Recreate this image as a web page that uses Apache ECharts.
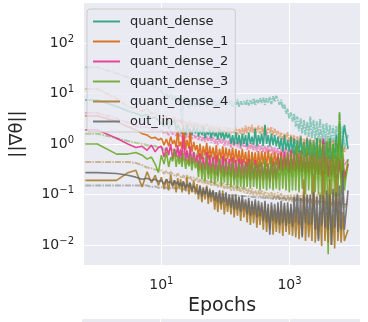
<!DOCTYPE html>
<html>
<head>
<meta charset="utf-8">
<script src="https://cdn.jsdelivr.net/npm/echarts@6/dist/echarts.min.js"></script>
<style>
  html, body { margin: 0; padding: 0; background: #fff; }
  #chart { width: 368px; height: 322px; }
</style>
</head>
<body>
<div id="chart"></div>
<script>
// epochs (x), shared by every line
const epochs = [0.65, 1, 2, 3, 4, 5, 6, 7, 8, 9,
  10, 11, 12, 13, 14, 15, 16, 17, 18, 19,
  20, 21, 22, 24, 25, 27, 28, 30, 32, 34,
  36, 38, 40, 43, 45, 48, 51, 54, 57, 60,
  64, 68, 72, 76, 81, 86, 91, 96, 102, 108,
  115, 122, 129, 137, 145, 154, 163, 173, 183, 194,
  206, 218, 231, 245, 260, 275, 292, 309, 328, 347,
  368, 390, 414, 439, 465, 493, 522, 554, 587, 622,
  660, 699, 741, 786, 833, 883, 936, 992, 1051, 1114,
  1181, 1252, 1327, 1407, 1491, 1581, 1676, 1776, 1883, 1996,
  2115, 2242, 2377, 2519, 2671, 2831, 3001, 3181, 3372, 3574,
  3788, 4016, 4256, 4512, 4783, 5070, 5374, 5696, 6038, 6400,
  6784, 7192, 8200];

// gradient norms, solid lines
const quantDense = [7.4, 7.4, 5.5, 4.5, 4.0, 3.6, 3.8, 3.2, 3.4, 2.9,
  2.6, 2.2, 2.8, 2.0, 2.5, 2.3, 2.9, 1.9, 2.4, 2.1,
  2.3, 1.6, 2.1, 1.5, 2.4, 1.7, 2.0, 1.5, 2.2, 1.6,
  2.1, 1.4, 1.9, 1.5, 2.2, 1.3, 1.8, 1.5, 2.0, 1.3,
  1.9, 1.4, 1.7, 1.2, 2.0, 1.3, 1.8, 1.2, 1.7, 1.3,
  1.6, 1.0, 1.5, 0.95, 1.7, 1.0, 1.5, 0.9, 1.6, 1.0,
  1.5, 0.9, 1.7, 1.0, 1.4, 0.95, 2.0, 0.9, 1.5, 1.0,
  1.6, 0.9, 2.4, 1.0, 1.5, 0.9, 1.6, 0.95, 1.5, 0.9,
  1.4, 0.8, 1.3, 0.7, 1.5, 0.75, 1.2, 0.7, 1.4, 0.65,
  1.3, 0.6, 1.2, 0.65, 1.4, 0.6, 1.1, 0.55, 1.3, 0.6,
  1.2, 0.5, 1.1, 0.55, 1.3, 0.5, 1.0, 0.5, 1.2, 0.45,
  1.1, 0.5, 1.3, 0.45, 1.0, 0.5, 1.5, 0.45, 2.6, 0.5,
  1.2, 2.4, 0.8];
const quantDense1 = [3.6, 3.6, 2.8, 2.2, 1.9, 1.6, 1.5, 1.3, 1.35, 1.2,
  1.3, 0.95, 1.25, 0.9, 1.4, 1.0, 1.2, 0.85, 1.9, 0.9,
  1.1, 0.8, 2.4, 0.75, 1.2, 0.8, 1.9, 0.7, 1.1, 0.75,
  0.95, 0.55, 1.0, 0.5, 0.9, 0.6, 1.05, 0.5, 0.9, 0.55,
  0.85, 0.5, 0.95, 0.45, 0.8, 0.5, 0.9, 0.45, 0.85, 0.5,
  0.8, 0.45, 0.85, 0.42, 0.8, 0.45, 0.75, 0.4, 0.8, 0.42,
  0.7, 0.35, 0.75, 0.32, 0.7, 0.38, 0.68, 0.33, 0.72, 0.35,
  0.72, 0.4, 0.7, 0.35, 0.75, 0.4, 0.65, 0.35, 0.7, 0.38,
  0.65, 0.32, 0.7, 0.3, 0.6, 0.32, 0.66, 0.28, 0.6, 0.3,
  0.6, 0.28, 0.62, 0.27, 0.58, 0.28, 0.6, 0.26, 0.55, 0.27,
  0.58, 0.25, 0.55, 0.26, 0.6, 0.24, 0.52, 0.25, 0.56, 0.24,
  0.55, 0.23, 0.5, 0.24, 0.6, 0.22, 0.5, 0.23, 0.52, 0.22,
  0.5, 0.22, 0.4];
const quantDense2 = [1.9, 1.9, 1.3, 1.0, 0.85, 0.9, 0.75, 0.95, 0.7, 0.85,
  0.9, 0.55, 0.85, 0.6, 1.0, 0.5, 0.8, 0.55, 0.95, 0.5,
  0.8, 0.45, 1.4, 0.45, 0.75, 0.4, 0.9, 0.4, 0.7, 0.42,
  0.6, 0.3, 0.65, 0.28, 0.55, 0.3, 0.7, 0.25, 0.6, 0.27,
  0.55, 0.25, 0.6, 0.23, 0.5, 0.26, 0.58, 0.22, 0.52, 0.24,
  0.5, 0.22, 0.55, 0.2, 0.48, 0.22, 0.52, 0.2, 0.5, 0.21,
  0.45, 0.2, 0.5, 0.19, 0.42, 0.2, 0.48, 0.19, 0.4, 0.2,
  0.42, 0.19, 0.45, 0.2, 0.4, 0.18, 0.5, 0.2, 0.45, 0.19,
  0.55, 0.3, 0.65, 0.28, 0.7, 0.3, 0.6, 0.27, 0.75, 0.3,
  0.7, 0.28, 0.65, 0.3, 0.72, 0.27, 0.6, 0.28, 0.68, 0.26,
  0.6, 0.25, 0.65, 0.24, 0.7, 0.25, 0.6, 0.23, 1.3, 0.25,
  0.55, 0.22, 0.6, 0.23, 0.5, 0.22, 0.55, 0.2, 0.5, 0.22,
  0.45, 0.2, 0.4];
const quantDense3 = [1.0, 1.0, 0.63, 0.63, 0.68, 0.6, 0.5, 0.55, 0.4, 0.27,
  0.6, 0.4, 0.7, 0.35, 0.55, 0.45, 0.75, 0.35, 0.6, 0.4,
  0.55, 0.35, 0.65, 0.32, 0.5, 0.36, 0.6, 0.3, 0.55, 0.33,
  0.45, 0.22, 0.5, 0.2, 0.42, 0.18, 0.55, 0.2, 0.4, 0.17,
  0.45, 0.16, 0.4, 0.18, 0.5, 0.15, 0.38, 0.17, 0.42, 0.15,
  0.4, 0.14, 0.45, 0.15, 0.36, 0.13, 0.42, 0.14, 0.38, 0.13,
  0.4, 0.14, 0.45, 0.13, 0.5, 0.14, 0.4, 0.13, 0.45, 0.12,
  0.45, 0.13, 0.5, 0.12, 0.42, 0.13, 0.55, 0.12, 0.45, 0.13,
  0.5, 0.12, 0.6, 0.13, 0.55, 0.12, 0.7, 0.11, 0.65, 0.12,
  0.8, 0.12, 1.0, 0.11, 0.75, 0.13, 1.1, 0.1, 0.9, 0.12,
  1.0, 0.1, 1.2, 0.11, 0.9, 0.1, 1.3, 0.08, 1.0, 0.1,
  1.1, 0.0065, 1.3, 0.1, 0.95, 0.09, 1.2, 0.09, 4.2, 0.1,
  0.8, 0.12, 0.5];
const quantDense4 = [0.19, 0.19, 0.19, 0.27, 0.3, 0.14, 0.28, 0.17, 0.24, 0.15,
  0.22, 0.13, 0.2, 0.12, 0.25, 0.14, 0.19, 0.11, 0.21, 0.13,
  0.2, 0.11, 0.18, 0.12, 0.22, 0.1, 0.17, 0.11, 0.19, 0.1,
  0.16, 0.08, 0.15, 0.07, 0.14, 0.08, 0.15, 0.065, 0.13, 0.07,
  0.12, 0.05, 0.11, 0.045, 0.1, 0.05, 0.12, 0.04, 0.09, 0.045,
  0.09, 0.04, 0.1, 0.035, 0.08, 0.038, 0.09, 0.03, 0.08, 0.035,
  0.07, 0.028, 0.075, 0.025, 0.065, 0.027, 0.07, 0.022, 0.06, 0.025,
  0.06, 0.02, 0.065, 0.018, 0.055, 0.02, 0.06, 0.016, 0.05, 0.018,
  0.055, 0.017, 0.05, 0.015, 0.06, 0.018, 0.05, 0.016, 0.055, 0.015,
  0.05, 0.014, 0.055, 0.013, 0.045, 0.015, 0.2, 0.012, 0.05, 0.014,
  0.045, 0.012, 0.25, 0.011, 0.04, 0.013, 0.045, 0.0095, 0.3, 0.012,
  0.045, 0.011, 0.2, 0.01, 0.04, 0.0085, 0.25, 0.012, 0.05, 0.011,
  0.045, 0.012, 0.02];
const outLin = [0.27, 0.27, 0.26, 0.24, 0.22, 0.2, 0.21, 0.19, 0.2, 0.18,
  0.19, 0.16, 0.2, 0.17, 0.18, 0.15, 0.19, 0.16, 0.18, 0.15,
  0.17, 0.14, 0.18, 0.13, 0.16, 0.14, 0.17, 0.12, 0.15, 0.13,
  0.14, 0.1, 0.15, 0.09, 0.13, 0.1, 0.14, 0.085, 0.12, 0.09,
  0.12, 0.075, 0.11, 0.07, 0.12, 0.065, 0.1, 0.07, 0.11, 0.06,
  0.1, 0.055, 0.095, 0.05, 0.1, 0.05, 0.09, 0.045, 0.095, 0.05,
  0.08, 0.04, 0.085, 0.038, 0.075, 0.04, 0.08, 0.035, 0.075, 0.037,
  0.07, 0.03, 0.075, 0.028, 0.065, 0.016, 0.07, 0.03, 0.065, 0.027,
  0.07, 0.025, 0.075, 0.027, 0.068, 0.024, 0.07, 0.026, 0.065, 0.023,
  0.09, 0.028, 0.1, 0.025, 0.085, 0.014, 0.095, 0.027, 0.1, 0.025,
  0.1, 0.025, 0.11, 0.02, 0.09, 0.012, 0.1, 0.024, 0.095, 0.022,
  0.12, 0.02, 0.1, 0.01, 0.13, 0.022, 0.11, 0.018, 0.15, 0.02,
  0.3, 0.02, 0.12];

// second, faint dash-dot line of each layer
const quantDenseFaint = [33, 33, 25, 21, 19, 17, 16, 15, 13, 12.5,
  11, 9, 10, 8, 9.5, 7.5, 9, 7, 8.5, 6.5,
  8, 2.5, 7.5, 6, 8.5, 5, 7, 5.5, 8, 5.5,
  6, 8, 5.5, 7, 6.5, 9, 5.5, 7, 6, 8,
  6, 7.5, 5.5, 7, 6, 8, 5.5, 7, 6.5, 7.5,
  6, 7.5, 5.5, 7, 6, 7.5, 5.5, 7, 6, 7,
  6, 7.5, 5.8, 7.5, 6.2, 8, 5.8, 7.4, 6.5, 8,
  6.5, 8.2, 6, 8, 6.5, 8.5, 6.2, 8.8, 6.8, 9,
  8.5, 6, 7.5, 5, 6, 4, 5, 3.2, 4.2, 2.8,
  4, 2.2, 3.5, 1.8, 3.2, 1.6, 3, 1.5, 2.8, 1.4,
  3.5, 1.3, 3, 1.2, 2.8, 1.1, 3.2, 1.0, 2.5, 1.0,
  2.6, 0.95, 2.4, 1.0, 2.3, 0.9, 2.3, 0.85, 4.3, 0.8,
  2.2, 0.8, 1.5];
const quantDense1Faint = [12.3, 12.3, 8, 5.5, 5, 4.5, 4.8, 4, 4.2, 3.6,
  3.4, 2.8, 3.6, 2.6, 3.2, 2.9, 3.5, 2.5, 3.1, 2.7,
  3.0, 2.4, 2.9, 2.3, 2.8, 2.2, 2.9, 2.1, 2.6, 2.2,
  2.6, 2.0, 2.5, 1.9, 2.4, 1.9, 2.5, 1.8, 2.3, 1.9,
  2.3, 1.8, 2.2, 1.7, 2.2, 1.7, 2.1, 1.7, 2.2, 1.6,
  2.1, 1.6, 2.0, 1.6, 2.1, 1.5, 2.0, 1.6, 2.1, 1.5,
  2.3, 1.6, 2.2, 1.7, 2.4, 1.6, 2.1, 1.7, 2.3, 1.6,
  2.2, 1.6, 2.3, 1.5, 2.1, 1.6, 2.2, 1.5, 2.0, 1.5,
  1.8, 1.3, 1.7, 1.2, 1.6, 1.2, 1.7, 1.1, 1.5, 1.1,
  1.5, 1.0, 1.4, 1.0, 1.5, 0.9, 1.3, 0.9, 1.4, 0.9,
  1.3, 0.85, 1.2, 0.8, 1.3, 0.8, 1.2, 0.75, 1.1, 0.8,
  1.2, 0.7, 1.1, 0.75, 1.2, 0.7, 1.0, 0.7, 1.1, 0.7,
  1.0, 0.7, 0.9];
const quantDense2Faint = [4.1, 4.1, 3.2, 2.6, 2.3, 2.1, 2.2, 1.9, 2.0, 1.8,
  1.9, 1.6, 1.8, 1.5, 1.9, 1.55, 1.7, 1.45, 1.8, 1.4,
  1.7, 1.35, 1.65, 1.3, 1.6, 1.35, 1.7, 1.25, 1.55, 1.3,
  1.5, 1.2, 1.45, 1.15, 1.5, 1.1, 1.4, 1.15, 1.45, 1.05,
  1.35, 1.0, 1.3, 0.95, 1.3, 1.0, 1.25, 0.9, 1.2, 0.95,
  1.2, 0.85, 1.15, 0.9, 1.1, 0.85, 1.15, 0.8, 1.1, 0.85,
  1.05, 0.75, 1.0, 0.8, 1.05, 0.75, 0.95, 0.7, 1.0, 0.75,
  0.95, 0.7, 0.9, 0.65, 0.95, 0.7, 0.9, 0.62, 0.85, 0.65,
  0.85, 0.6, 0.8, 0.58, 0.85, 0.6, 0.78, 0.55, 0.8, 0.56,
  0.75, 0.52, 0.72, 0.5, 0.76, 0.5, 0.7, 0.48, 0.72, 0.5,
  0.7, 0.46, 0.68, 0.45, 0.7, 0.44, 0.65, 0.43, 0.68, 0.44,
  0.65, 0.42, 0.62, 0.4, 0.66, 0.4, 0.6, 0.38, 0.62, 0.4,
  0.58, 0.38, 0.5];
const quantDense3Faint = [1.6, 1.6, 1.3, 1.15, 1.05, 1.0, 0.95, 0.9, 0.92, 0.85,
  0.88, 0.75, 0.85, 0.7, 0.82, 0.72, 0.8, 0.68, 0.78, 0.66,
  0.75, 0.62, 0.72, 0.6, 0.74, 0.58, 0.7, 0.57, 0.68, 0.56,
  0.66, 0.52, 0.64, 0.5, 0.62, 0.5, 0.6, 0.48, 0.6, 0.46,
  0.58, 0.44, 0.56, 0.42, 0.55, 0.42, 0.52, 0.4, 0.52, 0.39,
  0.5, 0.37, 0.48, 0.36, 0.48, 0.35, 0.46, 0.34, 0.45, 0.33,
  0.44, 0.32, 0.42, 0.31, 0.42, 0.3, 0.4, 0.29, 0.4, 0.28,
  0.38, 0.27, 0.37, 0.26, 0.37, 0.25, 0.36, 0.25, 0.35, 0.24,
  0.36, 0.24, 0.38, 0.23, 0.4, 0.24, 0.42, 0.23, 0.4, 0.22,
  0.45, 0.22, 0.48, 0.21, 0.46, 0.22, 0.5, 0.2, 0.48, 0.21,
  0.5, 0.2, 0.52, 0.19, 0.5, 0.2, 0.55, 0.18, 0.5, 0.19,
  0.52, 0.18, 0.55, 0.18, 0.5, 0.17, 0.56, 0.18, 0.52, 0.17,
  0.5, 0.17, 0.35];
const quantDense4Faint = [0.44, 0.44, 0.44, 0.44, 0.42, 0.38, 0.34, 0.33, 0.31, 0.3,
  0.3, 0.26, 0.29, 0.25, 0.28, 0.25, 0.27, 0.23, 0.26, 0.23,
  0.25, 0.21, 0.24, 0.2, 0.24, 0.2, 0.23, 0.19, 0.22, 0.19,
  0.21, 0.17, 0.2, 0.17, 0.2, 0.16, 0.19, 0.16, 0.19, 0.15,
  0.18, 0.15, 0.18, 0.14, 0.17, 0.14, 0.17, 0.13, 0.16, 0.13,
  0.16, 0.12, 0.15, 0.12, 0.15, 0.115, 0.14, 0.11, 0.14, 0.11,
  0.135, 0.1, 0.13, 0.1, 0.13, 0.095, 0.12, 0.095, 0.12, 0.09,
  0.12, 0.09, 0.115, 0.085, 0.11, 0.085, 0.11, 0.08, 0.105, 0.08,
  0.11, 0.078, 0.105, 0.075, 0.1, 0.075, 0.1, 0.072, 0.1, 0.07,
  0.1, 0.07, 0.105, 0.068, 0.1, 0.068, 0.11, 0.066, 0.1, 0.065,
  0.1, 0.064, 0.11, 0.063, 0.1, 0.062, 0.11, 0.06, 0.1, 0.06,
  0.105, 0.058, 0.1, 0.058, 0.11, 0.056, 0.1, 0.056, 0.105, 0.055,
  0.1, 0.055, 0.08];
const outLinFaint = [0.15, 0.15, 0.15, 0.15, 0.15, 0.15, 0.15, 0.14, 0.145, 0.135,
  0.14, 0.13, 0.138, 0.128, 0.135, 0.127, 0.133, 0.125, 0.132, 0.124,
  0.13, 0.122, 0.128, 0.12, 0.127, 0.118, 0.125, 0.117, 0.124, 0.115,
  0.122, 0.113, 0.12, 0.112, 0.119, 0.11, 0.118, 0.108, 0.116, 0.107,
  0.115, 0.105, 0.113, 0.104, 0.112, 0.102, 0.11, 0.1, 0.108, 0.099,
  0.107, 0.097, 0.105, 0.096, 0.104, 0.095, 0.102, 0.094, 0.101, 0.093,
  0.1, 0.092, 0.099, 0.09, 0.098, 0.089, 0.097, 0.088, 0.096, 0.087,
  0.095, 0.086, 0.094, 0.085, 0.093, 0.084, 0.092, 0.083, 0.091, 0.082,
  0.09, 0.081, 0.089, 0.08, 0.088, 0.079, 0.087, 0.078, 0.086, 0.077,
  0.085, 0.076, 0.084, 0.075, 0.083, 0.074, 0.082, 0.073, 0.081, 0.072,
  0.08, 0.071, 0.079, 0.07, 0.078, 0.069, 0.077, 0.068, 0.076, 0.067,
  0.075, 0.066, 0.074, 0.065, 0.073, 0.064, 0.072, 0.063, 0.071, 0.062,
  0.07, 0.062, 0.066];

const names = ['quant_dense', 'quant_dense_1', 'quant_dense_2', 'quant_dense_3', 'quant_dense_4', 'out_lin'];
const colors = ['#1b9e77', '#d95f02', '#e7298a', '#66a61e', '#a6761d', '#666666'];
const solidLines = [quantDense, quantDense1, quantDense2, quantDense3, quantDense4, outLin];
const faintLines = [quantDenseFaint, quantDense1Faint, quantDense2Faint, quantDense3Faint, quantDense4Faint, outLinFaint];

const xTicks = [10, 1000];
const yTicks = [0.01, 0.1, 1, 10, 100];

const FONT = 'DejaVu Sans';
const TEXT = '#262626';

// 10^n labels like matplotlib
function powLabel(v) {
  const e = Math.round(Math.log10(v));
  const s = e < 0 ? '\u2212' + (-e) : String(e);
  return '{b|10}{s|' + s + '}';
}
const rich = {
  b: { fontFamily: FONT, fontSize: 14, color: TEXT },
  s: { fontFamily: FONT, fontSize: 10, color: TEXT, padding: [0, 0, 8, 0] }
};

function pairs(vals) {
  return epochs.map((e, i) => [e, vals[i]]);
}

const series = [];
faintLines.forEach((vals, i) => {
  series.push({
    name: names[i] + ' (faint)',
    type: 'line',
    data: pairs(vals),
    symbol: 'none',
    silent: true,
    lineStyle: { color: colors[i], width: 2, opacity: 0.45, type: [6, 1.2, 1.5, 1.2] },
    emphasis: { disabled: true }
  });
});
solidLines.forEach((vals, i) => {
  series.push({
    name: names[i],
    type: 'line',
    data: pairs(vals),
    symbol: 'none',
    itemStyle: { color: colors[i] },
    lineStyle: { color: colors[i], width: 1.6, opacity: 0.85 },
    emphasis: { disabled: true }
  });
});

const chart = echarts.init(document.getElementById('chart'));
chart.setOption({
  animation: false,
  backgroundColor: '#ffffff',
  grid: [
    { left: 82, right: 8, top: 3, bottom: 57, show: true, backgroundColor: '#eaeaf2', borderWidth: 0 },
    { left: 82, right: 8, top: 319, height: 20, show: true, backgroundColor: '#eaeaf2', borderWidth: 0 }
  ],
  legend: {
    data: names,
    orient: 'vertical',
    left: 87,
    top: 9,
    padding: [6, 7, 4, 6],
    itemWidth: 27,
    itemHeight: 14,
    itemGap: 7,
    icon: 'path://M0,0h27v2h-27z',
    itemStyle: { opacity: 0.85 },
    backgroundColor: 'rgba(234,234,242,0.8)',
    borderColor: '#cccccc',
    borderWidth: 1,
    borderRadius: 3,
    textStyle: { fontFamily: FONT, fontSize: 13, color: TEXT, padding: [0, 0, 0, 5] }
  },
  xAxis: [
    {
      type: 'log', gridIndex: 0, min: 0.62, max: 12600,
      axisLine: { show: false },
      axisTick: { show: false, customValues: xTicks },
      axisLabel: { customValues: xTicks, formatter: powLabel, rich: rich, margin: 11 },
      splitLine: { show: true, lineStyle: { color: '#ffffff', width: 1 } },
      name: 'Epochs', nameLocation: 'middle', nameGap: 32,
      nameTextStyle: { fontFamily: FONT, fontSize: 19, color: TEXT }
    },
    {
      type: 'log', gridIndex: 1, min: 0.62, max: 12600,
      axisLine: { show: false },
      axisTick: { show: false, customValues: xTicks },
      axisLabel: { show: false },
      splitLine: { show: true, lineStyle: { color: '#ffffff', width: 1 } }
    }
  ],
  yAxis: [
    {
      type: 'log', gridIndex: 0, min: 0.004, max: 620,
      axisLine: { show: false },
      axisTick: { show: false, customValues: yTicks },
      axisLabel: { customValues: yTicks, formatter: powLabel, rich: rich, margin: 10 },
      splitLine: { show: true, lineStyle: { color: '#ffffff', width: 1 } },
      name: '||\u2207\u03b8||', nameLocation: 'middle', nameGap: 58,
      nameTextStyle: { fontFamily: FONT, fontSize: 18, color: TEXT }
    },
    {
      type: 'value', gridIndex: 1, min: 0, max: 1,
      show: false
    }
  ],
  series: series
});
</script>
</body>
</html>
